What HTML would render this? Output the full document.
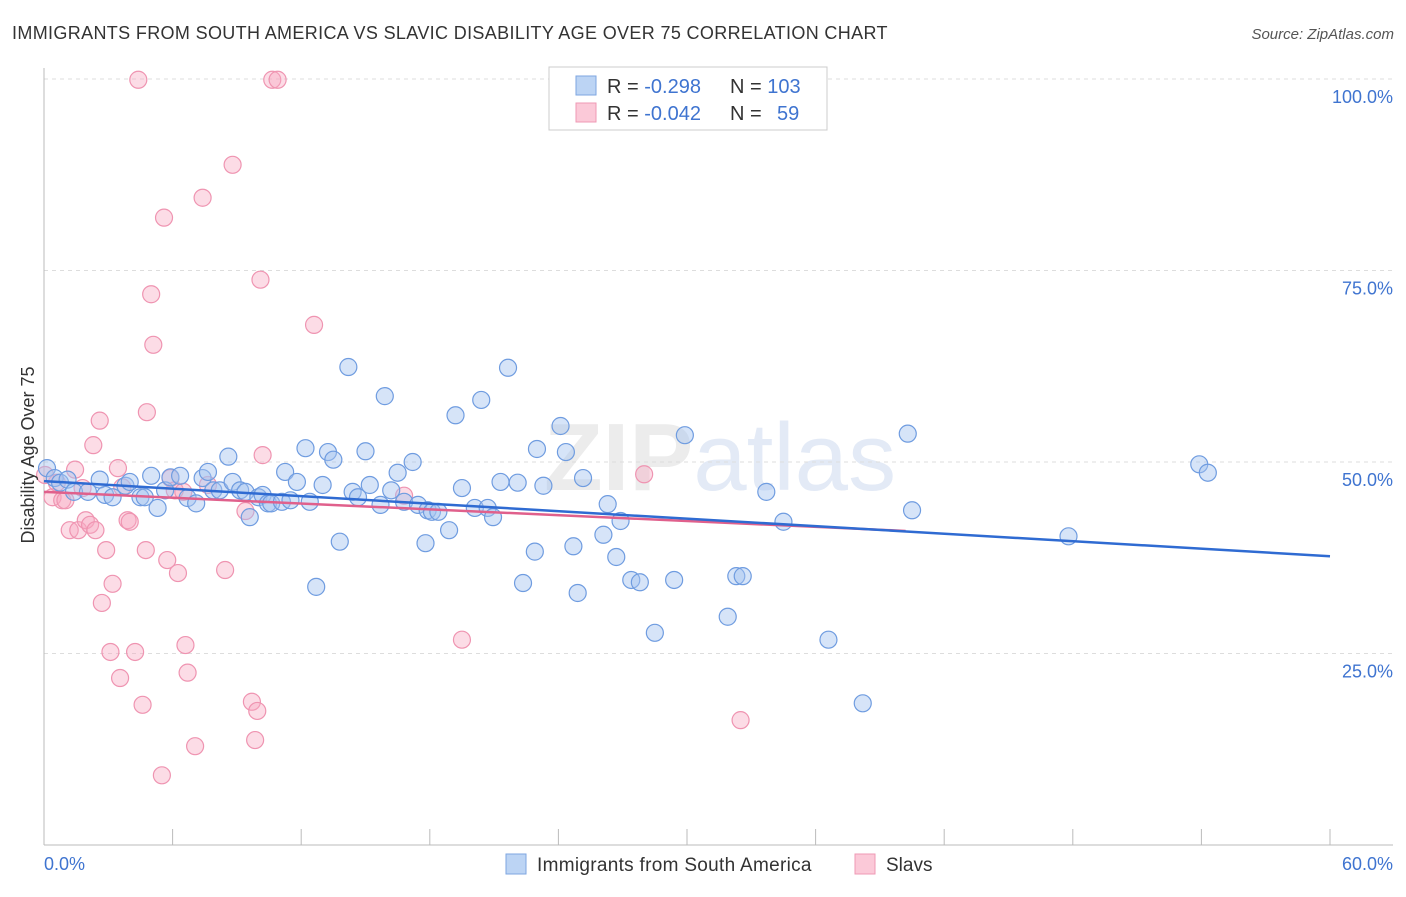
<!DOCTYPE html>
<html><head><meta charset="utf-8"><style>
body{margin:0;background:#fff;font-family:"Liberation Sans",sans-serif;}
svg text{font-family:"Liberation Sans",sans-serif;}
</style></head><body>
<svg width="1406" height="892" xmlns="http://www.w3.org/2000/svg">
<text x="12" y="39" font-size="18" fill="#333" letter-spacing="0.35">IMMIGRANTS FROM SOUTH AMERICA VS SLAVIC DISABILITY AGE OVER 75 CORRELATION CHART</text>
<text x="1394" y="39" font-size="15" fill="#555" font-style="italic" text-anchor="end">Source: ZipAtlas.com</text>
<text x="720" y="490" font-size="96" fill="#ececec" text-anchor="middle" font-weight="bold">ZIP<tspan fill="#e3eaf6" font-weight="normal">atlas</tspan></text>
<g id="grid"></g>
<g id="axes"></g>
<g id="pts"></g>
<g id="trends"></g>
<text transform="translate(34,455) rotate(-90)" font-size="18" fill="#333" text-anchor="middle">Disability Age Over 75</text>
<g>
<rect x="549" y="67" width="278" height="63" fill="#fff" stroke="#ccc"/>
<rect x="576" y="76" width="20" height="19" fill="#bcd4f4" stroke="#7ea6e0"/>
<rect x="576" y="103" width="20" height="19" fill="#fbc9d8" stroke="#ef99b4"/>
<text x="607" y="93" font-size="20" fill="#333">R = <tspan fill="#3f74d0">-0.298</tspan><tspan x="730">N = </tspan><tspan fill="#3f74d0">103</tspan></text>
<text x="607" y="120" font-size="20" fill="#333">R = <tspan fill="#3f74d0">-0.042</tspan><tspan x="730">N = </tspan><tspan x="777" fill="#3f74d0">59</tspan></text>
</g>
<g>
<rect x="506" y="854" width="20" height="20" fill="#bcd4f4" stroke="#7ea6e0"/>
<text x="537" y="871" font-size="19" fill="#333" letter-spacing="0.3">Immigrants from South America</text>
<rect x="855" y="854" width="20" height="20" fill="#fbc9d8" stroke="#ef99b4"/>
<text x="886" y="871" font-size="19" fill="#333">Slavs</text>
</g>
</svg>
<script>
const xTicks=[0,6,12,18,24,30,36,42,48,54,60];
const yGrid=[25,50,75,100];
const yTickLabels=["25.0%","50.0%","75.0%","100.0%"];
const xTickLabels=["0.0%","60.0%"];
const blueX=[0.14,0.5,0.75,1.1,1.4,2.05,2.6,2.85,3.2,3.8,4.0,4.5,4.7,5.0,5.3,5.65,5.9,6.35,6.7,7.1,7.4,7.65,7.9,8.2,8.6,8.8,9.15,9.4,9.6,10.0,10.2,10.45,10.6,11.1,11.25,11.5,11.8,12.2,12.4,12.7,13.0,13.25,13.5,13.8,14.2,14.4,14.65,15.0,15.2,15.7,15.9,16.2,16.5,16.8,17.2,17.45,17.8,17.9,18.1,18.4,18.9,19.2,19.5,20.1,20.4,20.7,20.95,21.3,21.65,22.1,22.35,22.9,23.0,23.3,24.1,24.35,24.7,24.9,25.15,26.1,26.3,26.7,26.9,27.4,27.8,28.5,29.4,29.9,31.9,32.3,32.6,33.7,34.5,36.6,38.2,40.3,40.5,47.8,53.9,54.3];
const blueY=[49.2,47.9,47.3,47.7,46.1,46.1,47.7,45.7,45.4,46.9,47.4,45.4,45.4,48.2,44.0,46.3,48.0,48.2,45.3,44.6,47.9,48.7,46.3,46.3,50.7,47.4,46.3,46.1,42.8,45.4,45.7,44.6,44.6,44.8,48.7,45.0,47.4,51.8,44.8,33.7,47.0,51.3,50.3,39.6,62.4,46.1,45.4,51.4,47.0,44.4,58.6,46.3,48.6,44.8,50.0,44.4,39.4,43.7,43.5,43.5,41.1,56.1,46.6,44.0,58.1,44.0,42.8,47.4,62.3,47.3,34.2,38.3,51.7,46.9,54.7,51.3,39.0,32.9,47.9,40.5,44.5,37.6,42.3,34.6,34.3,27.7,34.6,53.5,29.8,35.1,35.1,46.1,42.2,26.8,18.5,53.7,43.7,40.3,49.7,48.6];
const pinkX=[0.05,0.4,0.6,0.85,1.0,1.2,1.45,1.6,1.8,1.95,2.15,2.3,2.4,2.6,2.7,2.9,3.1,3.2,3.45,3.55,3.65,3.9,4.0,4.25,4.4,4.6,4.75,4.8,5.0,5.1,5.5,5.6,5.75,5.9,6.1,6.25,6.5,6.6,6.7,7.05,7.4,7.65,8.45,8.8,9.4,9.7,9.85,9.95,10.1,10.2,10.65,10.9,12.6,16.8,19.5,28.0,32.5];
const pinkY=[48.3,45.4,47.3,45.0,45.0,41.1,49.0,41.1,46.6,42.4,41.8,52.2,41.1,55.4,31.6,38.5,25.2,34.1,49.2,21.8,46.7,42.4,42.2,25.2,99.9,18.3,38.5,56.5,71.9,65.3,9.1,81.9,37.2,47.9,46.3,35.5,46.1,26.1,22.5,12.9,84.5,47.0,35.9,88.8,43.6,18.7,13.7,17.5,73.8,50.9,99.9,99.9,67.9,45.6,26.8,48.4,16.3];
const blueTrend=[[0,47.5],[60,37.7]];
const pinkTrend=[[0,46.1],[40.2,41.0]];
const sx=v=>44+v/60*1286;
const sy=v=>845-v/100*766;
const NS="http://www.w3.org/2000/svg";
function mk(tag,attrs,parent){const e=document.createElementNS(NS,tag);for(const k in attrs)e.setAttribute(k,attrs[k]);parent.appendChild(e);return e;}
const grid=document.getElementById('grid'),axes=document.getElementById('axes'),pts=document.getElementById('pts'),tr=document.getElementById('trends');
yGrid.forEach((v,i)=>{
  const l=mk('line',{x1:44,x2:1393,y1:sy(v),y2:sy(v),stroke:'#ddd','stroke-dasharray':'4,4'},grid);
  
  
  const t=mk('text',{x:1393,y:sy(v)+24,'font-size':18,fill:'#3f74d0','text-anchor':'end'},grid);
  t.textContent=yTickLabels[i];
  
  
});
let a=mk('line',{x1:44,x2:44,y1:68,y2:845,stroke:'#bbb'},axes);


a=mk('line',{x1:44,x2:1393,y1:845,y2:845,stroke:'#bbb'},axes);


xTicks.forEach(v=>{const l=mk('line',{x1:sx(v),x2:sx(v),y1:829,y2:845,stroke:'#bbb'},axes);
  
  });
let t=mk('text',{x:44,y:870,'font-size':18,fill:'#3f74d0'},axes);t.textContent=xTickLabels[0];


t=mk('text',{x:1393,y:870,'font-size':18,fill:'#3f74d0','text-anchor':'end'},axes);t.textContent=xTickLabels[1];


pinkX.forEach((x,i)=>{const c=mk('circle',{cx:sx(x),cy:sy(pinkY[i]),r:8.5,fill:'rgba(247,168,192,0.4)',stroke:'#ef94b1','stroke-width':1.2},pts);
  
  });
blueX.forEach((x,i)=>{const c=mk('circle',{cx:sx(x),cy:sy(blueY[i]),r:8.5,fill:'rgba(164,196,240,0.45)',stroke:'#6f9ce0','stroke-width':1.2},pts);
  
  });
let l=mk('line',{x1:sx(pinkTrend[0][0]),y1:sy(pinkTrend[0][1]),x2:sx(pinkTrend[1][0]),y2:sy(pinkTrend[1][1]),stroke:'#e0608c','stroke-width':2.5},tr);


l=mk('line',{x1:sx(blueTrend[0][0]),y1:sy(blueTrend[0][1]),x2:sx(blueTrend[1][0]),y2:sy(blueTrend[1][1]),stroke:'#2f6bd2','stroke-width':2.5},tr);


</script>
</body></html>
